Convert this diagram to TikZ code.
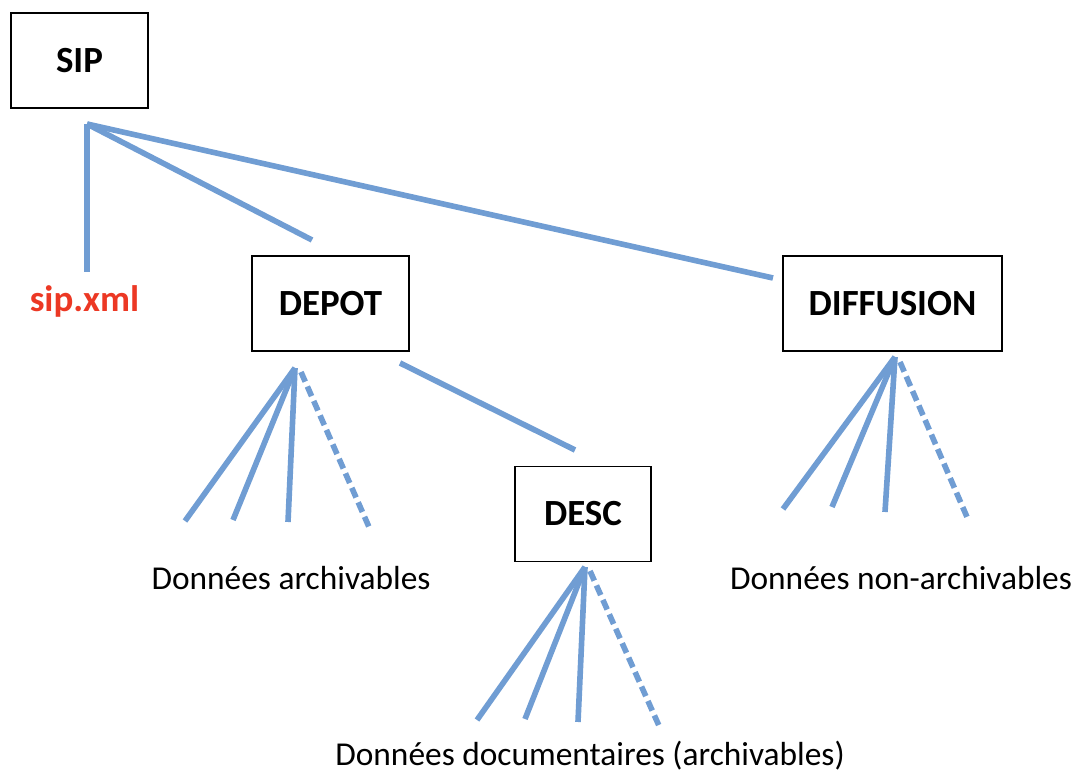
\documentclass[tikz,border=0pt]{standalone}
\usepackage{fontspec}
\setmainfont{Carlito}
\definecolor{linkblue}{RGB}{112,157,211}
\definecolor{xmlred}{RGB}{236,56,36}
\begin{document}
\begin{tikzpicture}[x=0.02cm,y=-0.02cm,
    box/.style={draw,line width=1.1pt,minimum height=1.9cm,
      font=\fontsize{21}{25}\selectfont\bfseries},
    link/.style={draw=linkblue,line width=3.2pt},
    later/.style={link,dash pattern=on 6pt off 3pt},
    caption/.style={font=\fontsize{19}{23}\selectfont}]
  \useasboundingbox (0,0) rectangle (1076,776);
  \draw
    (79.5,60.5) node[box,minimum width=2.74cm] (sip){SIP}
    (330.5,303.5) node[box,minimum width=3.14cm] (depot){DEPOT}
    (892.5,303.5) node[box,minimum width=4.38cm] (diffusion){DIFFUSION}
    (583,514) node[box,minimum width=2.72cm] (desc){DESC};
  \node[text=xmlred,font=\fontsize{21}{25}\selectfont\bfseries] (xml) at (84.5,301) {sip.xml};
  \node[caption] (archivables) at (291,578) {Données archivables};
  \node[caption] (nonarchivables) at (901,578) {Données non-archivables};
  \node[caption] (documentaires) at (590,756) {Données documentaires (archivables)};
  % points where the fans start and end
  \coordinate (sip hub) at (87,124);
  \coordinate (xml end) at (87,272);
  \coordinate (depot end) at (312,240);
  \coordinate (diffusion end) at (773,278);
  \coordinate (depot hub) at (295,368);
  \coordinate (depot dash) at (301,372);
  \coordinate (desc start) at (400,363);
  \coordinate (desc end) at (575,450);
  \coordinate (diffusion hub) at (895,357);
  \coordinate (diffusion dash) at (900,362);
  \coordinate (desc hub) at (585,567);
  \coordinate (desc dash) at (590,571);
  \begin{scope}[link]
    \draw (sip hub) to (xml end);
    \draw (sip hub) to (depot end);
    \draw (sip hub) to (diffusion end);
    \draw (desc start) to (desc end);
    \draw (depot hub) to (185,521);
    \draw (depot hub) to (233,520);
    \draw (depot hub) to (288,522);
    \draw[later] (depot dash) to (369,527);
    \draw (diffusion hub) to (783,509);
    \draw (diffusion hub) to (832,507);
    \draw (diffusion hub) to (885,512);
    \draw[later] (diffusion dash) to (967,517);
    \draw (desc hub) to (477,720);
    \draw (desc hub) to (525,719);
    \draw (desc hub) to (578,722);
    \draw[later] (desc dash) to (660,728);
  \end{scope}
\end{tikzpicture}
\end{document}
